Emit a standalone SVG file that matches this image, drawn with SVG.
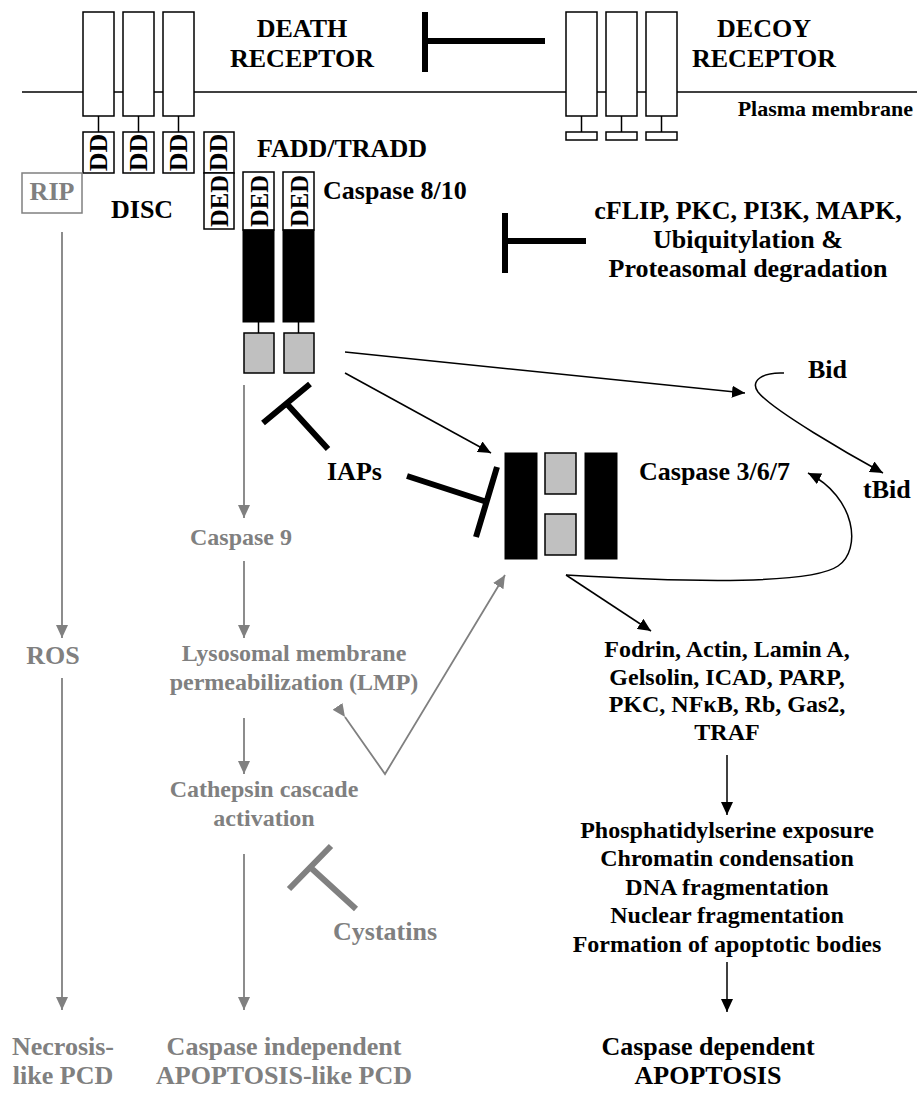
<svg xmlns="http://www.w3.org/2000/svg" width="917" height="1099" viewBox="0 0 917 1099">
<defs>
<style>
text{font-family:"Liberation Serif","Times New Roman",serif;font-weight:bold;font-size:26px;fill:#000}
.g{fill:#808080}
.s24{font-size:24px}
.s22{font-size:22px}
.m{text-anchor:middle}
.box{fill:#fff;stroke:#000;stroke-width:1.5}
.blk{fill:#000;stroke:#000;stroke-width:1}
.gry{fill:#c0c0c0;stroke:#000;stroke-width:1.5}
.ln{stroke:#000;stroke-width:1.5;fill:none}
.gl{stroke:#808080;stroke-width:1.8;fill:none}
.inh{stroke:#000;stroke-width:6;fill:none}
.ginh{stroke:#808080;stroke-width:6;fill:none}
</style>
<marker id="ab" markerUnits="userSpaceOnUse" markerWidth="14" markerHeight="12" refX="13" refY="6" orient="auto"><path d="M0,0 L13,6 L0,12 z" fill="#000"/></marker>
<marker id="ag" markerUnits="userSpaceOnUse" markerWidth="14" markerHeight="12" refX="13" refY="6" orient="auto"><path d="M0,0 L13,6 L0,12 z" fill="#808080"/></marker>
</defs>
<rect width="917" height="1099" fill="#fff"/>

<g id="membrane">
<line x1="22" y1="92" x2="917" y2="92" stroke="#000" stroke-width="1.5"/>
<text x="913" y="116" text-anchor="end" class="s22">Plasma membrane</text>
</g>

<g id="death-receptor">
<rect class="box" x="83" y="12" width="31" height="104"/>
<rect class="box" x="123" y="12" width="31" height="104"/>
<rect class="box" x="163" y="12" width="31" height="104"/>
<line class="ln" x1="98.5" y1="116" x2="98.5" y2="132"/>
<line class="ln" x1="138.5" y1="116" x2="138.5" y2="132"/>
<line class="ln" x1="178.5" y1="116" x2="178.5" y2="132"/>
<rect class="box" x="83" y="132" width="31" height="41"/>
<rect class="box" x="123" y="132" width="31" height="41"/>
<rect class="box" x="163" y="132" width="31" height="41"/>
<text transform="translate(98.5,152.5) rotate(-90)" y="8" class="m" font-size="23">DD</text>
<text transform="translate(138.5,152.5) rotate(-90)" y="8" class="m" font-size="23">DD</text>
<text transform="translate(178.5,152.5) rotate(-90)" y="8" class="m" font-size="23">DD</text>
<text x="302" y="37" class="m">DEATH</text>
<text x="302" y="67" class="m">RECEPTOR</text>
</g>

<g id="decoy-receptor">
<rect class="box" x="566" y="12" width="31" height="104"/>
<rect class="box" x="606" y="12" width="31" height="104"/>
<rect class="box" x="646" y="12" width="31" height="104"/>
<line class="ln" x1="581.5" y1="116" x2="581.5" y2="132"/>
<line class="ln" x1="621.5" y1="116" x2="621.5" y2="132"/>
<line class="ln" x1="661.5" y1="116" x2="661.5" y2="132"/>
<rect class="box" x="566" y="132" width="31" height="8"/>
<rect class="box" x="606" y="132" width="31" height="8"/>
<rect class="box" x="646" y="132" width="31" height="8"/>
<text x="764" y="37" class="m">DECOY</text>
<text x="764" y="67" class="m">RECEPTOR</text>
</g>

<g id="fadd">
<rect class="box" x="204" y="132" width="30" height="41"/>
<rect class="box" x="204" y="173" width="30" height="56"/>
<text transform="translate(219,152.5) rotate(-90)" y="8" class="m" font-size="23">DD</text>
<text transform="translate(219,201) rotate(-90)" y="9" class="m" font-size="25" textLength="52" lengthAdjust="spacingAndGlyphs">DED</text>
<text x="257" y="157">FADD/TRADD</text>
</g>

<g id="disc">
<text x="111" y="218">DISC</text>
</g>

<g id="rip">
<rect x="22" y="173" width="60" height="40" fill="#fff" stroke="#808080" stroke-width="1.5"/>
<text x="52" y="200" class="m g">RIP</text>
</g>

<g id="caspase8">
<rect class="box" x="243" y="172" width="31" height="58"/>
<rect class="box" x="283" y="172" width="31" height="58"/>
<text transform="translate(258.5,201) rotate(-90)" y="9" class="m" font-size="25" textLength="52" lengthAdjust="spacingAndGlyphs">DED</text>
<text transform="translate(298.5,201) rotate(-90)" y="9" class="m" font-size="25" textLength="52" lengthAdjust="spacingAndGlyphs">DED</text>
<rect class="blk" x="243" y="230" width="31" height="92"/>
<rect class="blk" x="283" y="230" width="31" height="92"/>
<line class="ln" x1="258.5" y1="322" x2="258.5" y2="333"/>
<line class="ln" x1="298.5" y1="322" x2="298.5" y2="333"/>
<rect class="gry" x="244" y="333" width="30" height="40"/>
<rect class="gry" x="284" y="333" width="30" height="40"/>
<text x="323" y="199" font-size="23">Caspase 8/10</text>
</g>

<g id="inhibitors-top">
<text x="748" y="219" class="m">cFLIP, PKC, PI3K, MAPK,</text>
<text x="748" y="248" class="m">Ubiquitylation &amp;</text>
<text x="748" y="277" class="m">Proteasomal degradation</text>
</g>

<g id="caspase367">
<rect class="blk" x="505" y="453" width="32" height="106"/>
<rect class="gry" x="545" y="453" width="31" height="41"/>
<rect class="gry" x="545" y="514" width="31" height="41"/>
<rect class="blk" x="585" y="453" width="32" height="106"/>
<text x="639" y="480">Caspase 3/6/7</text>
</g>

<g id="bid">
<text x="808" y="378">Bid</text>
<text x="863" y="498">tBid</text>
</g>

<g id="iaps">
<text x="327" y="480">IAPs</text>
</g>

<g id="caspase9">
<text x="241" y="545" class="m g s24">Caspase 9</text>
</g>
<g id="ros">
<text x="53" y="664" class="m g">ROS</text>
</g>
<g id="lmp">
<text x="294" y="661" class="m g s24">Lysosomal membrane</text>
<text x="294" y="690" class="m g s24">permeabilization (LMP)</text>
</g>
<g id="cathepsin">
<text x="264" y="797" class="m g s24">Cathepsin cascade</text>
<text x="264" y="826" class="m g s24">activation</text>
</g>
<g id="cystatins">
<text x="333" y="940" class="g">Cystatins</text>
</g>

<g id="substrates">
<text x="727" y="657" class="m s24">Fodrin, Actin, Lamin A,</text>
<text x="727" y="685" class="m s24">Gelsolin, ICAD, PARP,</text>
<text x="727" y="712" class="m s24">PKC, NFκB, Rb, Gas2,</text>
<text x="727" y="740" class="m s24">TRAF</text>
</g>
<g id="events">
<text x="727" y="838" class="m s24">Phosphatidylserine exposure</text>
<text x="727" y="866" class="m s24">Chromatin condensation</text>
<text x="727" y="895" class="m s24">DNA fragmentation</text>
<text x="727" y="923" class="m s24">Nuclear fragmentation</text>
<text x="727" y="952" class="m s24">Formation of apoptotic bodies</text>
</g>

<g id="outcomes">
<text x="63" y="1055" class="m g">Necrosis-</text>
<text x="63" y="1084" class="m g">like PCD</text>
<text x="284" y="1055" class="m g">Caspase independent</text>
<text x="284" y="1084" class="m g">APOPTOSIS-like PCD</text>
<text x="708" y="1055" class="m">Caspase dependent</text>
<text x="708" y="1084" class="m">APOPTOSIS</text>
</g>

<g id="connectors">
<path class="inh" d="M425,12 V72 M425,41 H545"/>
<path class="inh" d="M505,213 V273 M505,241 H586"/>
<line class="ln" x1="345" y1="352" x2="745" y2="393" marker-end="url(#ab)"/>
<line class="ln" x1="345" y1="373" x2="491" y2="453" marker-end="url(#ab)"/>
<path class="ln" d="M784,373 C762,372 750,381 758,392 C772,410 850,455 883,473" marker-end="url(#ab)"/>
<path class="inh" d="M263,423 L310,384 M287,404 L328,449"/>
<path class="inh" d="M407,476 L487,502 M497,467 L476,537"/>
<line class="ln" x1="566" y1="575" x2="651" y2="631" marker-end="url(#ab)"/>
<path class="ln" d="M566,575 C700,583 812,584 838,566 C862,550 856,497 808,473" marker-end="url(#ab)"/>
<line class="ln" x1="727" y1="755" x2="727" y2="815" marker-end="url(#ab)"/>
<line class="ln" x1="727" y1="962" x2="727" y2="1012" marker-end="url(#ab)"/>
<line class="gl" x1="62" y1="232" x2="62" y2="638" marker-end="url(#ag)"/>
<line class="gl" x1="62" y1="678" x2="62" y2="1010" marker-end="url(#ag)"/>
<line class="gl" x1="244" y1="385" x2="244" y2="518" marker-end="url(#ag)"/>
<line class="gl" x1="244" y1="561" x2="244" y2="638" marker-end="url(#ag)"/>
<line class="gl" x1="244" y1="718" x2="244" y2="774" marker-end="url(#ag)"/>
<line class="gl" x1="244" y1="854" x2="244" y2="1010" marker-end="url(#ag)"/>
<path class="gl" d="M345,717 L385,774 L505,575" marker-start="url(#ag)" marker-end="url(#ag)"/>
<path class="ginh" d="M289,889 L331,846 M310,867 L356,909"/>
</g>
</svg>
